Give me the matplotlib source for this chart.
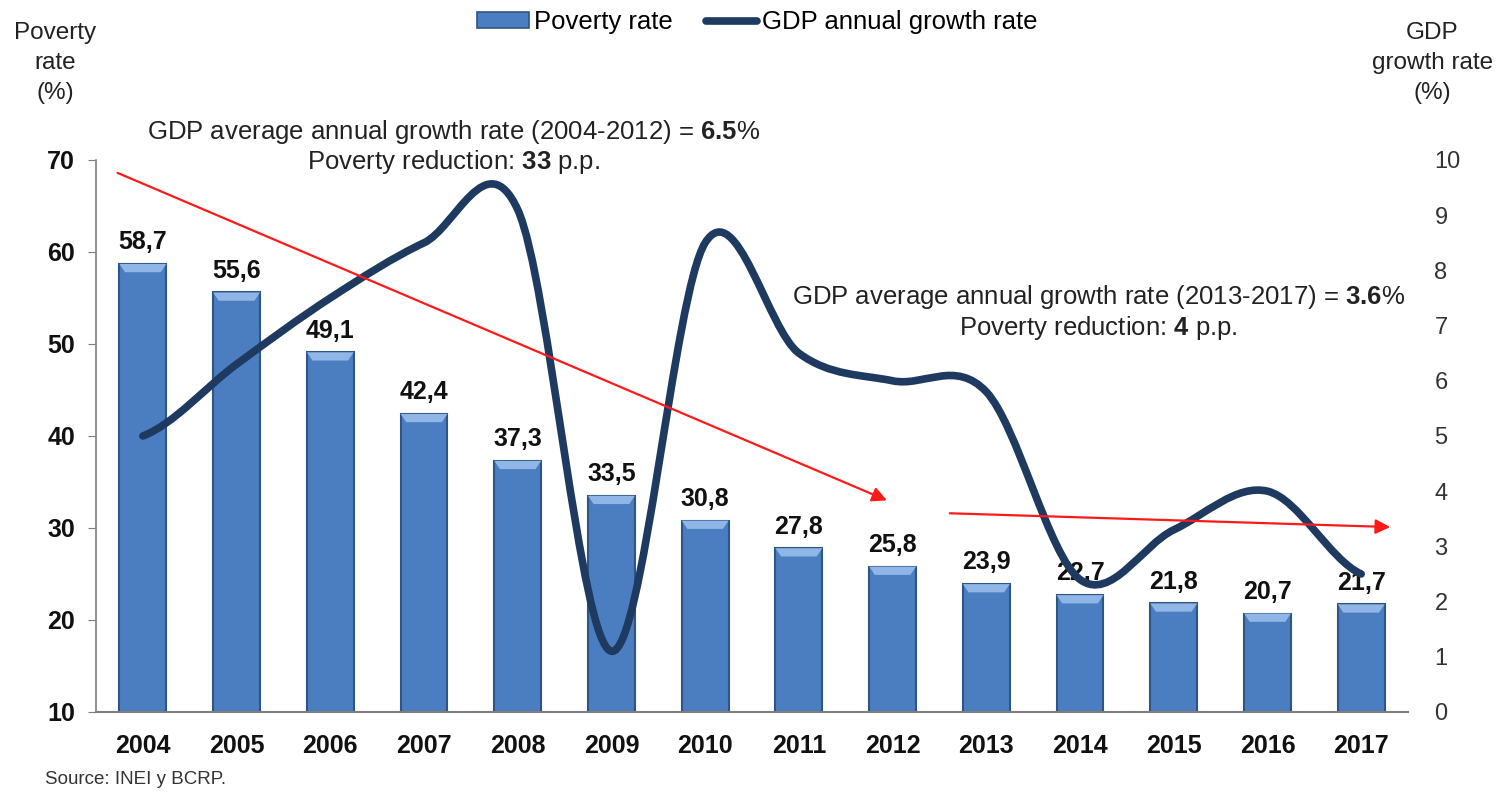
import matplotlib
matplotlib.use("Agg")
import matplotlib.pyplot as plt
from matplotlib.path import Path
from matplotlib.patches import PathPatch, Patch, Polygon
from matplotlib.lines import Line2D

plt.rcParams['font.family'] = ['Liberation Sans', 'DejaVu Sans']
plt.rcParams['mathtext.fontset'] = 'custom'
plt.rcParams['mathtext.rm'] = 'Liberation Sans'
plt.rcParams['mathtext.bf'] = 'Liberation Sans:bold'

years = ['2004', '2005', '2006', '2007', '2008', '2009', '2010',
         '2011', '2012', '2013', '2014', '2015', '2016', '2017']
poverty = [58.7, 55.6, 49.1, 42.4, 37.3, 33.5, 30.8,
           27.8, 25.8, 23.9, 22.7, 21.8, 20.7, 21.7]
gdp = [5.0, 6.3, 7.5, 8.5, 9.1, 1.1, 8.5,
       6.5, 6.0, 5.8, 2.4, 3.3, 4.0, 2.5]

BAR_BLUE = '#4a7ec0'
BAR_EDGE = '#2f5585'
BAR_TOP = '#8fb6e6'
NAVY = '#1f3a60'
RED = '#ff1a1a'

fig = plt.figure(figsize=(15, 7.98), dpi=100)
ax = fig.add_axes([0.064, 0.1078, 0.8747, 0.6917])
ax2 = ax.twinx()

x = list(range(len(years)))
ax.bar(x, [p - 10 for p in poverty], bottom=10, width=0.5,
       color=BAR_BLUE, edgecolor=BAR_EDGE, linewidth=1.5, zorder=2)
# bevel highlight along the top of each bar
for xi, p in zip(x, poverty):
    ax.add_patch(Polygon([(xi - 0.25, p), (xi + 0.25, p),
                          (xi + 0.19, p - 0.9), (xi - 0.19, p - 0.9)],
                         closed=True, facecolor=BAR_TOP, edgecolor='none', zorder=3))
    ax.annotate(f'{p:.1f}'.replace('.', ','), (xi, p), xytext=(0, 7),
                textcoords='offset points', ha='center', va='bottom',
                fontsize=18, fontweight='bold', color='#111111', zorder=4)

ax.set_xlim(-0.5, 13.5)
ax.set_ylim(10, 70)
ax.set_yticks(range(10, 71, 10))
ax.set_xticks(x)
ax.set_xticklabels(years)
for s in ['top', 'right']:
    ax.spines[s].set_visible(False)
ax.spines['left'].set_color('#7f7f7f')
ax.spines['bottom'].set_color('#7f7f7f')
ax.spines['left'].set_linewidth(1.2)
ax.spines['bottom'].set_linewidth(1.5)
ax.tick_params(axis='y', length=6, color='#7f7f7f', pad=9, labelsize=18)
ax.tick_params(axis='x', length=0, pad=16, labelsize=18)
for lab in ax.get_yticklabels() + ax.get_xticklabels():
    lab.set_fontweight('bold')
    lab.set_color('#111111')

# smoothed GDP curve as cubic Bezier segments through the yearly values
verts = [(x[0], gdp[0])]
codes = [Path.MOVETO]
n = len(gdp)
for i in range(n - 1):
    y_prev = gdp[i - 1] if i > 0 else gdp[i]
    y_next2 = gdp[i + 2] if i + 2 < n else gdp[i + 1]
    c1 = (x[i] + 1 / 3, gdp[i] + (gdp[i + 1] - y_prev) / 6)
    c2 = (x[i + 1] - 1 / 3, gdp[i + 1] - (y_next2 - gdp[i]) / 6)
    verts += [c1, c2, (x[i + 1], gdp[i + 1])]
    codes += [Path.CURVE4] * 3
ax2.add_patch(PathPatch(Path(verts, codes), facecolor='none', edgecolor=NAVY,
                        linewidth=5.5, capstyle='round', zorder=2))
ax2.set_ylim(0, 10)
ax2.set_yticks(range(0, 11))
for s in ax2.spines.values():
    s.set_visible(False)
ax2.tick_params(axis='y', length=0, pad=19, labelsize=17, labelcolor='#333333')

# trend arrows
arrow = dict(arrowstyle='-|>', color=RED, lw=1.6, mutation_scale=22,
             shrinkA=0, shrinkB=0)
ax2.annotate('', xy=(7.94, 33.0), xytext=(-0.27, 68.6),
             xycoords=ax.transData, textcoords=ax.transData, arrowprops=arrow, zorder=5)
ax2.annotate('', xy=(13.31, 30.1), xytext=(8.61, 31.6),
             xycoords=ax.transData, textcoords=ax.transData, arrowprops=arrow, zorder=5)

ax2.text(3.31, 71.4, 'GDP average annual growth rate (2004-2012) = $\\mathbf{6.5}$%\n'
         'Poverty reduction: $\\mathbf{33}$ p.p.', transform=ax.transData,
         ha='center', va='center', fontsize=18.5, color='#222222', linespacing=1.12)
ax2.text(10.2, 53.4, 'GDP average annual growth rate (2013-2017) = $\\mathbf{3.6}$%\n'
         'Poverty reduction: $\\mathbf{4}$ p.p.', transform=ax.transData,
         ha='center', va='center', fontsize=18.5, color='#222222', linespacing=1.12)

fig.text(0.037, 0.921, 'Poverty\nrate\n(%)', ha='center', va='center',
         fontsize=17.5, color='#222222', linespacing=1.45)
fig.text(0.955, 0.921, 'GDP\ngrowth rate\n(%)', ha='center', va='center',
         fontsize=17.5, color='#222222', linespacing=1.45)

handles = [Patch(facecolor=BAR_BLUE, edgecolor=BAR_EDGE, linewidth=1.2),
           Line2D([0], [0], color=NAVY, lw=5.5, solid_capstyle='round')]
fig.legend(handles, ['Poverty rate', 'GDP annual growth rate'],
           loc='center', bbox_to_anchor=(0.505, 0.972), ncol=2, frameon=False,
           fontsize=18.5, handlelength=2.0, handleheight=0.6,
           handletextpad=0.2, columnspacing=1.3)

fig.text(0.03, 0.012, 'Source: INEI y BCRP.', fontsize=13.5, color='#333333',
         ha='left', va='bottom')

fig.savefig('out.png', dpi=100)
